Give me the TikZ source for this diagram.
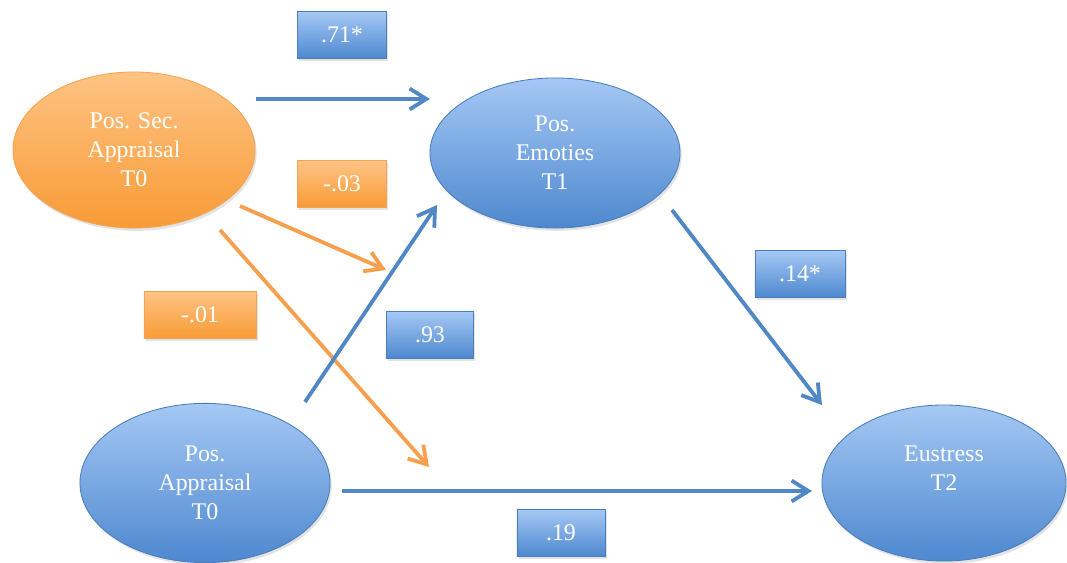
\documentclass[tikz,border=0pt]{standalone}
\usepackage{fontspec}
\setmainfont{Liberation Serif}
\usetikzlibrary{shapes.geometric,arrows.meta,shadows}
\definecolor{bluetop}{HTML}{A5C8F4}
\definecolor{bluebot}{HTML}{4E88CF}
\definecolor{blueline}{HTML}{5087C4}
\definecolor{blueedge}{HTML}{4A7EBB}
\definecolor{orangetop}{HTML}{FEC384}
\definecolor{orangebot}{HTML}{F89B36}
\definecolor{orangeline}{HTML}{F6A04D}
\definecolor{orangeedge}{HTML}{F2A456}
\tikzset{
  x=0.025cm, y=-0.025cm,
  txt/.style={text=white, font=\fontsize{17}{20.5}\selectfont, align=center},
  shad/.style={drop shadow={opacity=0.22, shadow xshift=1.2pt, shadow yshift=-2pt}},
  blueell/.style={ellipse, txt, shad, draw=blueedge, line width=0.6pt, top color=bluetop, bottom color=bluebot, inner sep=0pt},
  orangeell/.style={ellipse, txt, shad, draw=orangeedge, line width=0.6pt, top color=orangetop, bottom color=orangebot, inner sep=0pt},
  bluebox/.style={rectangle, txt, shad, draw=blueedge, line width=0.6pt, top color=bluetop, bottom color=bluebot, minimum height=1.17cm, inner sep=0pt},
  orangebox/.style={rectangle, txt, shad, draw=orangeedge, line width=0.6pt, top color=orangetop, bottom color=orangebot, minimum height=1.17cm, inner sep=0pt},
  bluearrow/.style={draw=blueline, line width=2.7pt, -{Straight Barb[length=4.2mm,width=5.2mm]}},
  orangearrow/.style={draw=orangeline, line width=2.7pt, -{Straight Barb[length=4.2mm,width=5.2mm]}},
}
\begin{document}
\begin{tikzpicture}
\useasboundingbox (0,0) rectangle (1067,563);
% ellipses
\node[orangeell, minimum width=6.05cm, minimum height=3.9cm] (sec) at (134,150) {Pos. Sec.\\Appraisal\\T0};
\node[blueell, minimum width=6.25cm, minimum height=3.75cm] (emo) at (555,153) {Pos.\\Emoties\\T1};
\node[blueell, minimum width=6.25cm, minimum height=3.98cm] (app) at (205,483) {Pos.\\Appraisal\\T0};
\node[blueell, minimum width=6.1cm, minimum height=3.9cm] (eus) at (944,483) {Eustress\\T2\\~};
% label boxes
\node[bluebox, minimum width=2.22cm] (l71) at (342,35) {.71*};
\node[orangebox, minimum width=2.22cm] (l03) at (342,184) {-.03};
\node[orangebox, minimum width=2.8cm] (l01) at (200,315) {-.01};
\node[bluebox, minimum width=2.18cm] (l93) at (430,335) {.93};
\node[bluebox, minimum width=2.25cm] (l14) at (800,274) {.14*};
\node[bluebox, minimum width=2.2cm] (l19) at (561,533) {.19};
% connector end points
\coordinate (a1s) at (256,99);  \coordinate (a1e) at (430,99);
\coordinate (a2s) at (240,206); \coordinate (a2e) at (386,270);
\coordinate (a3s) at (220,230); \coordinate (a3e) at (429,467);
\coordinate (a4s) at (305,402); \coordinate (a4e) at (437,205);
\coordinate (a5s) at (672,210); \coordinate (a5e) at (822,405);
\coordinate (a6s) at (342,491); \coordinate (a6e) at (812,491);
% connectors
\draw[orangearrow] (a3s) -- (a3e);
\draw[bluearrow] (a4s) -- (a4e);
\draw[bluearrow] (a1s) -- (a1e);
\draw[orangearrow] (a2s) -- (a2e);
\draw[bluearrow] (a5s) -- (a5e);
\draw[bluearrow] (a6s) -- (a6e);
\end{tikzpicture}
\end{document}
